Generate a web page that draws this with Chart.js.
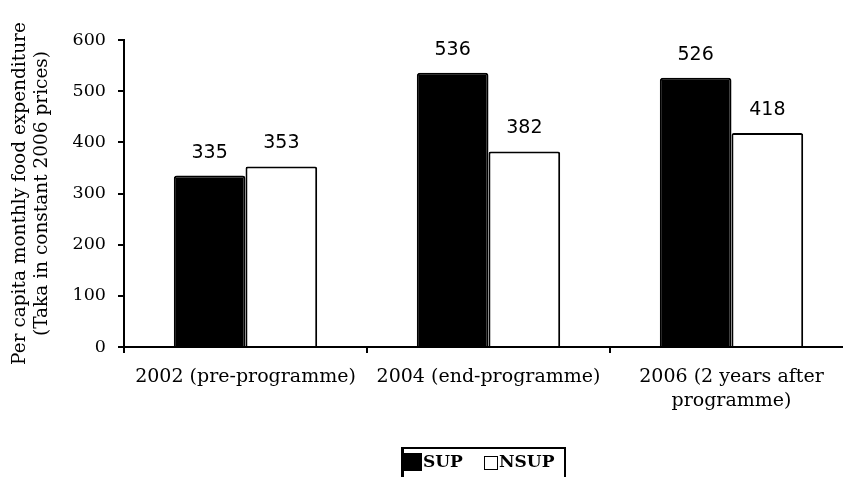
<!DOCTYPE html>
<html>
<head>
<meta charset="utf-8">
<script src="https://cdn.jsdelivr.net/npm/chart.js@4"></script>
<style>
  html, body { margin:0; padding:0; background:#fff; overflow:hidden; width:843px; height:477px; }
  #wrap { position:absolute; left:0; top:0; width:853px; height:477px; }
  #legend { position:absolute; left:401px; top:447px; width:160px; height:40px;
    border-top:2px solid #000; border-left:3px solid #000; border-right:2px solid #000;
    font-family:"DejaVu Serif", serif; font-weight:bold; font-size:17px; color:#000; }
  .item { position:absolute; top:4px; line-height:17px; white-space:nowrap; }
  .sw { display:inline-block; vertical-align:top; }
</style>
</head>
<body>
<div id="wrap"><canvas id="c" width="853" height="477"></canvas></div>
<div id="legend"></div>
<script>
// ---- data ----
const categories = [["2002 (pre-programme)"], ["2004 (end-programme)"], ["2006 (2 years after", "programme)"]];
const seriesNames = ["SUP", "NSUP"];
const supValues = [335, 536, 526];
const nsupValues = [353, 382, 418];
const yTicks = [0, 100, 200, 300, 400, 500, 600];
const yTitle = ["Per capita monthly food expenditure", "(Taka in constant 2006 prices)"];

const valueLabels = {
  id: 'valueLabels',
  afterDatasetsDraw(chart) {
    const ctx = chart.ctx;
    ctx.save();
    ctx.font = '19px "DejaVu Sans", sans-serif';
    ctx.fillStyle = '#000';
    ctx.textAlign = 'center';
    ctx.textBaseline = 'middle';
    chart.data.datasets.forEach((ds, i) => {
      chart.getDatasetMeta(i).data.forEach((bar, j) => {
        ctx.fillText(String(ds.data[j]), bar.x, bar.y - 23);
      });
    });
    ctx.restore();
  }
};

new Chart(document.getElementById('c'), {
  type: 'bar',
  data: {
    labels: categories,
    datasets: [
      { label: seriesNames[0], data: supValues, backgroundColor: '#000', borderColor: '#000',
        borderWidth: 2, borderSkipped: 'bottom', borderRadius: {topLeft: 3, topRight: 3} },
      { label: seriesNames[1], data: nsupValues, backgroundColor: '#fff', borderColor: '#000',
        borderWidth: 2, borderSkipped: 'bottom', borderRadius: {topLeft: 2, topRight: 2} }
    ]
  },
  options: {
    responsive: false,
    animation: false,
    devicePixelRatio: 1,
    layout: { padding: { top: 40, right: 0, bottom: 0, left: 0 } },
    plugins: { legend: { display: false }, tooltip: { enabled: false } },
    datasets: { bar: { categoryPercentage: 0.59, barPercentage: 1.0 } },
    scales: {
      x: {
        afterFit(scale) { scale.height = 130; },
        grid: { drawOnChartArea: false, drawTicks: true, tickLength: 6, color: '#000', lineWidth: 2, offset: true },
        border: { display: true, color: '#000', width: 2 },
        ticks: { color: '#000', padding: 12, maxRotation: 0, autoSkip: false,
          font: { family: '"DejaVu Serif", serif', size: 19, lineHeight: 1.27 } }
      },
      y: {
        min: 0, max: 600,
        afterFit(scale) { scale.width = 124; },
        afterBuildTicks(scale) { scale.ticks = yTicks.map(v => ({ value: v })); },
        grid: { drawOnChartArea: false, drawTicks: true, tickLength: 6, color: '#000', lineWidth: 2 },
        border: { display: true, color: '#000', width: 2 },
        ticks: { color: '#000', padding: 12,
          font: { family: '"DejaVu Serif", serif', size: 17.5 } },
        title: { display: true, text: yTitle, color: '#000', align: 'center',
          padding: { top: 9, bottom: 0 },
          font: { family: '"DejaVu Serif", serif', size: 18.5, lineHeight: 1.2 } }
      }
    }
  },
  plugins: [valueLabels]
});

// HTML legend built from series names
const leg = document.getElementById('legend');
const lefts = [0, 80];
seriesNames.forEach((name, i) => {
  const it = document.createElement('div');
  it.className = 'item';
  it.style.left = lefts[i] + 'px';
  const sw = document.createElement('span');
  sw.className = 'sw';
  if (i === 0) { sw.style.cssText += 'width:18px;height:18px;background:#000;margin-right:1px;'; }
  else { sw.style.cssText += 'width:12px;height:12px;border:1px solid #000;background:#fff;margin:3px 1px 0 0;'; }
  it.appendChild(sw);
  it.appendChild(document.createTextNode(name));
  leg.appendChild(it);
});
</script>
</body>
</html>
